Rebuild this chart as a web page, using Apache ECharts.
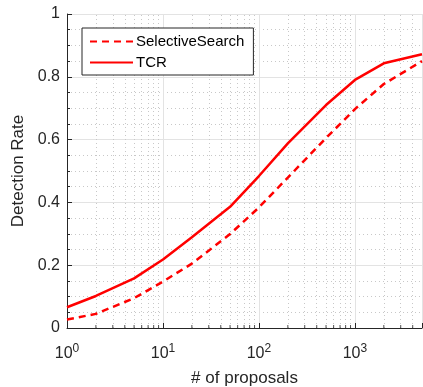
<!DOCTYPE html>
<html><head><meta charset="utf-8">
<script src="https://cdn.jsdelivr.net/npm/echarts@6/dist/echarts.min.js"></script>
<style>html,body{margin:0;padding:0;background:#fff}#c{width:423px;height:387px}</style>
</head><body><div id="c"></div>
<script>
const proposals = [1, 2, 5, 10, 20, 50, 100, 200, 500, 1000, 2000, 5000];
const selectiveSearch = [0.027, 0.045, 0.095, 0.148, 0.205, 0.299, 0.384, 0.479, 0.605, 0.697, 0.777, 0.850];
const tcr = [0.066, 0.102, 0.158, 0.218, 0.289, 0.386, 0.484, 0.588, 0.710, 0.790, 0.843, 0.872];
const xMinorTicks = [2,3,4,5,6,7,8,9,20,30,40,50,60,70,80,90,200,300,400,500,600,700,800,900,2000,3000,4000];
const xMin = 1, xMax = 5000;
const yMin = 0, yMax = 1, yInterval = 0.2;

const TXT = '#262626';
const FONT = '"Liberation Sans", Arial, sans-serif';
const chart = echarts.init(document.getElementById('c'), null, {renderer: 'canvas'});

chart.setOption({
  animation: false,
  backgroundColor: '#fff',
  textStyle: {fontFamily: FONT, color: TXT},
  grid: {left: 67, right: 1, top: 14, bottom: 59, containLabel: false, outerBoundsMode: 'none'},
  legend: {
    left: 82, top: 28, orient: 'vertical',
    itemWidth: 43, itemHeight: 14, itemGap: 6,
    padding: [6, 9, 5, 7],
    borderColor: TXT, borderWidth: 1, backgroundColor: '#fff',
    itemStyle: {opacity: 0},
    textStyle: {fontSize: 15, color: '#000', fontFamily: FONT, padding: [0, 0, 0, -2]},
    data: ['SelectiveSearch', 'TCR']
  },
  xAxis: {
    type: 'log', logBase: 10, min: xMin, max: xMax,
    name: '# of proposals', nameLocation: 'middle', nameGap: 42,
    nameTextStyle: {fontSize: 17, color: TXT, fontFamily: FONT},
    axisLine: {show: true, lineStyle: {color: TXT, width: 1}},
    axisTick: {show: true, inside: true, length: 5, lineStyle: {color: TXT}},
    axisLabel: {
      margin: 15, color: TXT,
      formatter: v => { const e = Math.round(Math.log10(v)); return Math.abs(Math.log10(v) - e) < 1e-6 ? '{b|10}{s|' + e + '}' : ''; },
      rich: {
        b: {fontSize: 16, color: TXT, fontFamily: FONT},
        s: {fontSize: 12, color: TXT, fontFamily: FONT, padding: [0, 0, 9, 0]}
      }
    },
    splitLine: {show: true, lineStyle: {color: '#e3e3e3', width: 1}}
  },
  yAxis: {
    type: 'value', min: yMin, max: yMax, interval: yInterval,
    name: 'Detection Rate', nameLocation: 'middle', nameGap: 39,
    nameTextStyle: {fontSize: 17, color: TXT, fontFamily: FONT},
    axisLine: {show: true, lineStyle: {color: TXT, width: 1}},
    axisTick: {show: true, inside: true, length: 5, lineStyle: {color: TXT}},
    minorTick: {show: true, splitNumber: 4, length: 3, lineStyle: {color: TXT}},
    minorSplitLine: {show: true, lineStyle: {color: '#c8c8c8', type: [1, 3], width: 1}},
    axisLabel: {fontSize: 16, color: TXT, margin: 7, formatter: v => String(+v.toFixed(1))},
    splitLine: {show: true, lineStyle: {color: '#e3e3e3', width: 1}}
  },
  series: [
    {
      name: 'SelectiveSearch', type: 'line', symbol: 'none', z: 5,
      data: proposals.map((p, i) => [p, selectiveSearch[i]]),
      lineStyle: {color: '#ff0000', width: 2.5, type: [7, 5]},
      itemStyle: {color: '#ff0000'},
      markLine: {
        silent: true, symbol: 'none', label: {show: false},
        lineStyle: {color: '#c8c8c8', type: [1, 3], width: 1},
        data: xMinorTicks.map(v => ({xAxis: v})),
        z: 1
      }
    },
    {
      name: 'TCR', type: 'line', symbol: 'none', z: 6,
      data: proposals.map((p, i) => [p, tcr[i]]),
      lineStyle: {color: '#ff0000', width: 2.5},
      itemStyle: {color: '#ff0000'}
    },
    {
      name: 'minorTicks', type: 'scatter', silent: true, z: 7,
      symbol: 'rect', symbolSize: [1, 3], symbolOffset: [0, -1.5],
      itemStyle: {color: TXT},
      data: xMinorTicks.map(v => [v, yMin])
    }
  ]
});
</script></body></html>
